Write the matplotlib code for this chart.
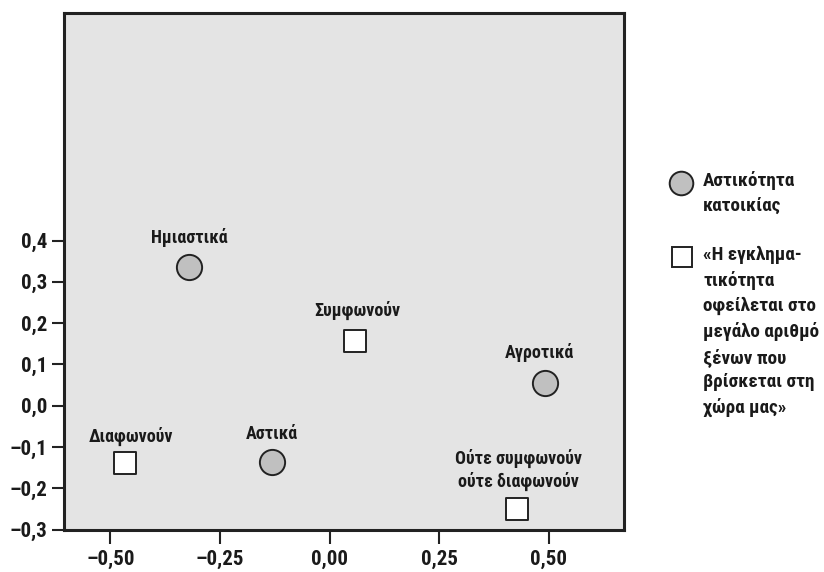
import matplotlib.pyplot as plt
from matplotlib import font_manager
from matplotlib.ft2font import FT2Font
from matplotlib.ticker import FixedLocator

# points: residence (circles) and opinion (squares)
area_names = ['Ημιαστικά', 'Αστικά', 'Αγροτικά']
area_x = [-0.321, -0.132, 0.492]
area_y = [0.337, -0.136, 0.055]

opinion_names = ['Συμφωνούν', 'Διαφωνούν', 'Ούτε συμφωνούν\nούτε διαφωνούν']
opinion_x = [0.058, -0.467, 0.429]
opinion_y = [0.156, -0.139, -0.250]

xticks = [-0.50, -0.25, 0.00, 0.25, 0.50]
yticks = [-0.3, -0.2, -0.1, 0.0, 0.1, 0.2, 0.3, 0.4]

legend_area = 'Αστικότητα\nκατοικίας'
legend_opinion = ('«Η εγκλημα-\nτικότητα\nοφείλεται στο\nμεγάλο αριθμό\n'
                  'ξένων που\nβρίσκεται στη\nχώρα μας»')


def pick_font():
    # a condensed family that has greek letters
    wanted = ['Roboto Condensed', 'Fira Sans Condensed', 'Open Sans Condensed',
              'IBM Plex Sans Condensed', 'Sofia Sans Condensed',
              'Liberation Sans Narrow', 'Encode Sans Condensed']
    by_name = {}
    for f in font_manager.fontManager.ttflist:
        by_name.setdefault(f.name, []).append(f.fname)
    for name in wanted:
        for path in by_name.get(name, []):
            try:
                cmap = FT2Font(path).get_charmap()
            except Exception:
                continue
            if 0x03CE in cmap and 0x03BC in cmap:
                return name
    return 'DejaVu Sans'


FONT = pick_font()
plt.rcParams['font.family'] = [FONT, 'DejaVu Sans']


def fmt(v, dec):
    s = '{:.{}f}'.format(v, dec).replace('.', ',')
    return s.replace('-', '\u2013')


fig = plt.figure(figsize=(8.24, 5.72), dpi=100)
ax = fig.add_axes([0.0777, 0.0743, 0.6795, 0.9035])
ax.set_facecolor('#e4e4e4')

ax.scatter(area_x, area_y, s=330, marker='o', facecolor='#c0c0c0',
           edgecolor='#222222', linewidth=1.4, zorder=3)
ax.scatter(opinion_x, opinion_y, s=230, marker='s', facecolor='white',
           edgecolor='#222222', linewidth=1.4, zorder=3)

# label offsets in points (dx, dy) to text centre
area_off = [(0, 21), (0, 20), (-4, 22)]
opinion_off = [(2, 22), (4, 19), (1, 28)]
for name, x, y, off in zip(area_names, area_x, area_y, area_off):
    ax.annotate(name, (x, y), xytext=off, textcoords='offset points',
                ha='center', va='center', fontsize=13, fontweight='bold',
                color='#1a1a1a', linespacing=1.25)
for name, x, y, off in zip(opinion_names, opinion_x, opinion_y, opinion_off):
    ax.annotate(name, (x, y), xytext=off, textcoords='offset points',
                ha='center', va='center', fontsize=13, fontweight='bold',
                color='#1a1a1a', linespacing=1.25)

ax.set_xlim(-0.606, 0.672)
ax.set_ylim(-0.3, 0.952)
ax.xaxis.set_major_locator(FixedLocator(xticks))
ax.yaxis.set_major_locator(FixedLocator(yticks))
ax.set_xticklabels([fmt(v, 2) for v in xticks])
ax.set_yticklabels([fmt(v, 1) for v in yticks])
ax.tick_params(axis='both', direction='out', width=1.5,
               color='#222222', labelsize=15, labelcolor='#1a1a1a')
ax.tick_params(axis='y', length=9, pad=3)
ax.tick_params(axis='x', length=10, pad=5)
for lab in ax.get_xticklabels() + ax.get_yticklabels():
    lab.set_fontweight('bold')
for sp in ax.spines.values():
    sp.set_linewidth(2.2)
    sp.set_color('#222222')

# legend drawn by hand on the right
fig.add_artist(plt.Line2D([680.7 / 824], [1 - 183 / 572], marker='o',
                          markersize=17, markerfacecolor='#c0c0c0',
                          markeredgecolor='#222222', markeredgewidth=1.4,
                          linestyle='none'))
fig.add_artist(plt.Line2D([681.7 / 824], [1 - 257 / 572], marker='s',
                          markersize=14.5, markerfacecolor='white',
                          markeredgecolor='#222222', markeredgewidth=1.4,
                          linestyle='none'))
fig.text(703 / 824, 1 - 171 / 572, legend_area, ha='left', va='top',
         fontsize=13.8, fontweight='bold', color='#1a1a1a', linespacing=1.5)
fig.text(703 / 824, 1 - 246 / 572, legend_opinion, ha='left', va='top',
         fontsize=13.8, fontweight='bold', color='#1a1a1a', linespacing=1.46)

fig.savefig('out.png', dpi=100)
